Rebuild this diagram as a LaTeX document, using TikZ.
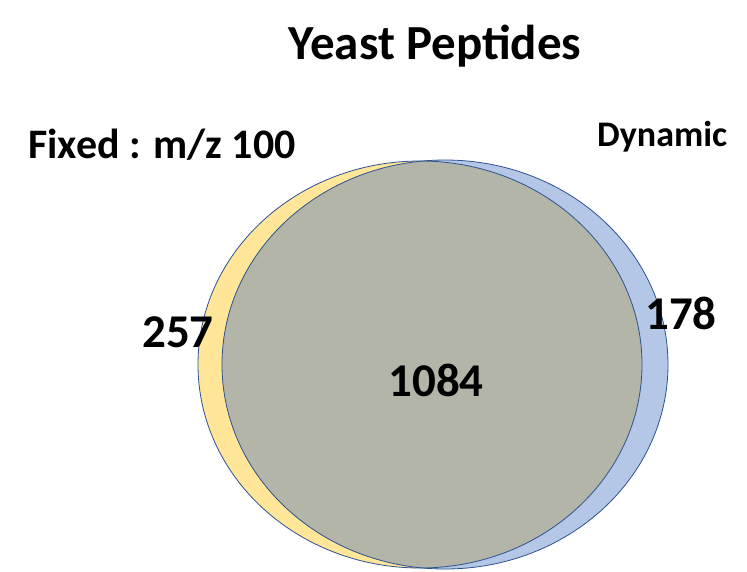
\documentclass[tikz,border=0pt]{standalone}
\usepackage{fontspec}
\setmainfont{Carlito}
\definecolor{fixedset}{HTML}{FFE699}
\definecolor{dynset}{HTML}{B4C7E7}
\definecolor{overlap}{HTML}{B2B5A8}
\definecolor{rim}{HTML}{2F528F}

\begin{document}
\begin{tikzpicture}[
  x=1pt, y=1pt,
  rimline/.style={draw=rim, line width=0.8pt},
  lbl/.style={font=\bfseries\fontsize{42}{50}\selectfont, text=black, inner sep=0pt},
  count/.style={font=\bfseries\fontsize{47}{56}\selectfont, text=black, inner sep=0pt},
]
\useasboundingbox (0,0) rectangle (747,-571);
\def\Fx{420}  \def\Fy{-364.5} % Fixed ellipse center
\def\Dx{445}  \def\Dy{-364.5} % Dynamic ellipse center

% --- sets
\fill[fixedset] (\Fx,\Fy) ellipse[x radius=222, y radius=203.5];
\fill[dynset] (\Dx,\Dy) ellipse[x radius=223, y radius=204.5];
\begin{scope}
  \clip (\Fx,\Fy) ellipse[x radius=222, y radius=203.5];
  \fill[overlap] (\Dx,\Dy) ellipse[x radius=223, y radius=204.5];
\end{scope}
\draw[rimline] (\Fx,\Fy) ellipse[x radius=222, y radius=203.5];
\draw[rimline] (\Dx,\Dy) ellipse[x radius=223, y radius=204.5];

% --- texts
\node[lbl, font=\bfseries\fontsize{49}{58}\selectfont] (title) at (435,-46) {Yeast Peptides};
\node[lbl, anchor=west] (fixed) at (28,-145) {Fixed : m/z 100};
\node[lbl, font=\bfseries\fontsize{36}{43}\selectfont, anchor=west] (dynamic) at (597,-137) {Dynamic};
\node[count] (onlyfixed) at (178,-332) {257};
\node[count] (onlydyn) at (681,-313) {178};
\node[count] (both) at (436,-380) {1084};
\end{tikzpicture}
\end{document}
